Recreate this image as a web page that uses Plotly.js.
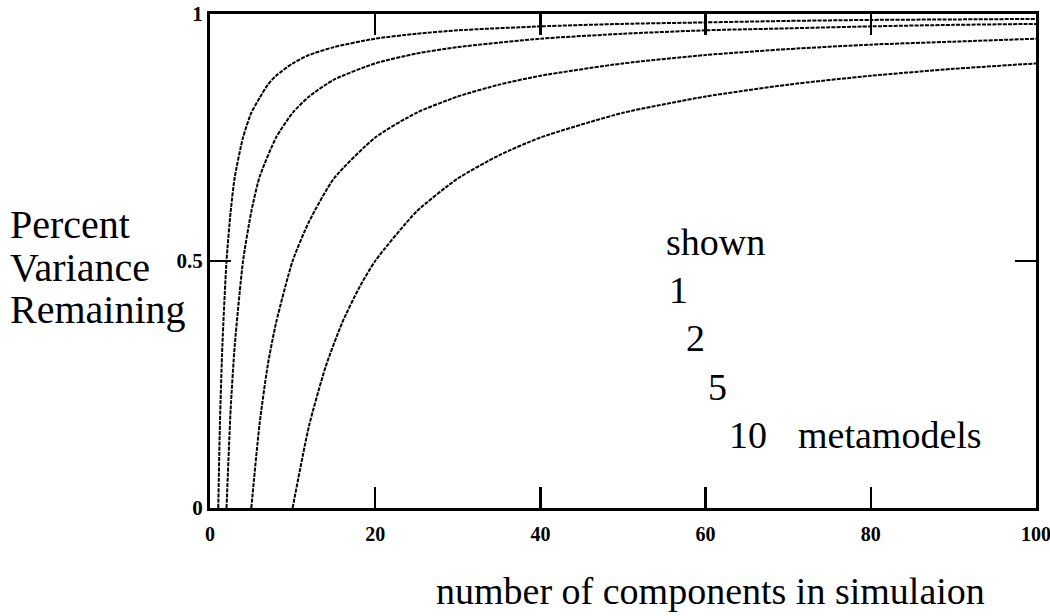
<!DOCTYPE html>
<html>
<head>
<meta charset="utf-8">
<script src="https://cdn.plot.ly/plotly-3.0.1.min.js"></script>
<style>html,body{margin:0;padding:0;background:#fff;}#chart{width:1050px;height:616px;}</style>
</head>
<body>
<div id="chart"></div>
<script>
// number of components in simulation (x) and percent variance remaining (y)
const x1 = [1, 1.2, 1.5, 2, 2.5, 3, 4, 5, 6, 7, 8, 10, 12, 15, 20, 25, 30, 40, 50, 60, 70, 80, 90, 100];
const y1 = [0, 0.17, 0.33, 0.5, 0.6, 0.67, 0.75, 0.8, 0.83, 0.857, 0.875, 0.9, 0.917, 0.933, 0.95, 0.96, 0.967, 0.975, 0.98, 0.983, 0.986, 0.988, 0.989, 0.99];
const x2 = [2, 2.5, 3, 4, 5, 6, 8, 10, 12, 15, 20, 25, 30, 40, 50, 60, 70, 80, 90, 100];
const y2 = [0, 0.2, 0.33, 0.5, 0.6, 0.67, 0.75, 0.8, 0.833, 0.867, 0.9, 0.92, 0.933, 0.95, 0.96, 0.967, 0.971, 0.975, 0.978, 0.98];
const x5 = [5, 6, 7, 8, 10, 12, 15, 20, 25, 30, 35, 40, 50, 60, 70, 80, 90, 100];
const y5 = [0, 0.17, 0.29, 0.375, 0.5, 0.58, 0.667, 0.75, 0.8, 0.833, 0.857, 0.875, 0.9, 0.917, 0.929, 0.938, 0.944, 0.95];
const x10 = [10, 12, 14, 16, 18, 20, 25, 30, 35, 40, 50, 60, 70, 80, 90, 100];
const y10 = [0, 0.167, 0.286, 0.375, 0.444, 0.5, 0.6, 0.667, 0.714, 0.75, 0.8, 0.833, 0.857, 0.875, 0.889, 0.9];
const xTicks = [0, 20, 40, 60, 80, 100];
const xTickText = ['0', '20', '40', '60', '80', '100'];
const yTicks = [0, 0.5, 1];
const yTickText = ['0', '0.5', '1'];
const legendLabels = ['shown', '1', '2', '5', '10', 'metamodels'];
const legendX = [55.0, 55.3, 57.4, 60.1, 62.6, 71.0];
const legendY = [0.538, 0.441, 0.344, 0.245, 0.148, 0.148];

const serif = 'Liberation Serif, Times New Roman, serif';
const lineStyle = {color: '#000', width: 2, dash: '4px,1.2px', shape: 'spline', smoothing: 0.6};
const series = [[x1, y1], [x2, y2], [x5, y5], [x10, y10]];
const traces = series.map(s => ({x: s[0], y: s[1], mode: 'lines', line: lineStyle, hoverinfo: 'skip', showlegend: false}));

const annotations = legendLabels.map((t, i) => ({
  text: t, x: legendX[i], y: legendY[i], xref: 'x', yref: 'y',
  xanchor: 'left', yanchor: 'middle', showarrow: false,
  font: {family: serif, size: 38, color: '#000'}
}));
const yTitle = ['Percent', 'Variance', 'Remaining'];
const yTitleY = [0.573, 0.486, 0.401];
yTitle.forEach((t, i) => annotations.push({
  text: t, x: -0.2446, y: yTitleY[i], xref: 'paper', yref: 'paper',
  xanchor: 'left', yanchor: 'middle', showarrow: false,
  font: {family: serif, size: 40, color: '#000'}
}));
annotations.push({
  text: 'number of components in simulaion', x: 0.606, y: -0.215, xref: 'paper', yref: 'paper',
  xanchor: 'center', yanchor: 'bottom', showarrow: false,
  font: {family: serif, size: 38, color: '#000'}
});

const layout = {
  width: 1050, height: 616,
  margin: {l: 210, r: 14, t: 14, b: 108},
  paper_bgcolor: '#fff', plot_bgcolor: '#fff',
  showlegend: false,
  xaxis: {
    range: [0, 100], tickvals: xTicks, ticktext: xTickText,
    ticks: 'inside', ticklen: 21, tickwidth: 2.5, tickcolor: '#000',
    showline: true, linewidth: 3, linecolor: '#000', mirror: 'ticks',
    showgrid: false, zeroline: false, ticklabeloverflow: 'allow', ticklabelstandoff: 6,
    tickfont: {family: serif, size: 20, color: '#000', weight: 'bold'}
  },
  yaxis: {
    range: [0, 1], tickvals: yTicks, ticktext: yTickText,
    ticks: 'inside', ticklen: 21, tickwidth: 2.5, tickcolor: '#000',
    showline: true, linewidth: 3, linecolor: '#000', mirror: 'ticks',
    showgrid: false, zeroline: false, ticklabeloverflow: 'allow',
    tickfont: {family: serif, size: 21, color: '#000', weight: 'bold'}
  },
  annotations: annotations
};

Plotly.newPlot('chart', traces, layout, {staticPlot: true, displayModeBar: false});
</script>
</body>
</html>
